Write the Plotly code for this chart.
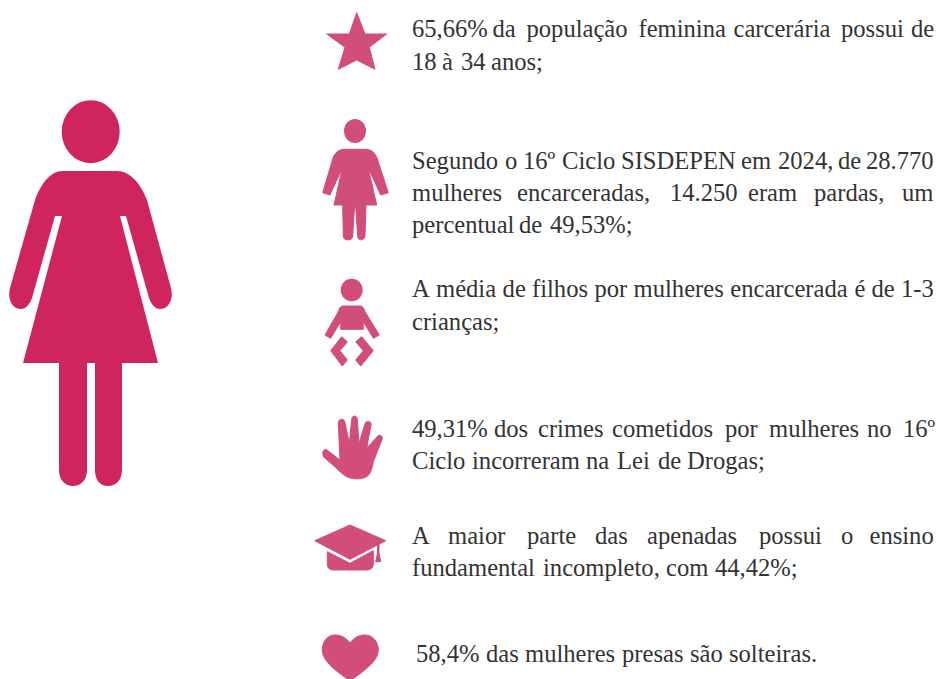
import plotly.graph_objects as go

# Text of the infographic, one entry per printed line, split in words
lines = [
    ["65,66%", "da", "população", "feminina", "carcerária", "possui", "de"],
    ["18", "à", "34", "anos;"],
    ["Segundo", "o", "16º", "Ciclo", "SISDEPEN", "em", "2024,", "de", "28.770"],
    ["mulheres", "encarceradas,", "14.250", "eram", "pardas,", "um"],
    ["percentual", "de", "49,53%;"],
    ["A", "média", "de", "filhos", "por", "mulheres", "encarcerada", "é", "de", "1-3"],
    ["crianças;"],
    ["49,31%", "dos", "crimes", "cometidos", "por", "mulheres", "no", "16º"],
    ["Ciclo", "incorreram", "na", "Lei", "de", "Drogas;"],
    ["A", "maior", "parte", "das", "apenadas", "possui", "o", "ensino"],
    ["fundamental", "incompleto,", "com", "44,42%;"],
    ["58,4%", "das", "mulheres", "presas", "são", "solteiras."],
]

# The original text is justified, so every word gets its own x
line_y = [31, 64, 163, 195, 227, 291, 324, 431, 463, 538, 570, 656]
word_x = [
    [412, 492.5, 526.5, 638.5, 733.5, 841, 911],
    [412, 442, 461, 491],
    [412, 505, 523, 562, 621, 741, 778, 838, 866],
    [412, 517, 670, 748, 814, 902],
    [412, 519, 550],
    [412, 436, 502.6, 532, 594.5, 633.6, 730.3, 854.4, 871.5, 901],
    [412],
    [412, 494, 538, 612, 725, 769, 867, 903],
    [412, 472, 586, 617, 658, 687],
    [412, 448, 527, 595, 647, 759, 841, 869.5],
    [412, 543, 666, 715],
    [416, 486, 525, 622, 690, 729],
]

dark_pink = "#cf245e"
soft_pink = "#d04e78"
text_color = "#333333"

icon_big_body = (
    "M63,171 L117,171 C130,171 141,184 147,200 L171,288 C174,300 168,309 160,309 "
    "C155,309 151,304 149,298 L126,216 L120,216 L158,363 L122,363 L122,470 "
    "C122,480 116,486 108,486 C100,486 95,480 95,470 L95,363 L87,363 L87,470 "
    "C87,480 81,486 73,486 C65,486 59,480 59,470 L59,363 L23,363 L62,216 L55,216 "
    "L32,298 C30,304 26,309 21,309 C13,309 7,300 10,288 L35,200 C41,184 50,171 63,171 Z"
)
icon_star = (
    "M356.7,12.7 L365,34 L386.7,34 L369.3,47.3 L375,69.3 L356.7,60 L338.3,69.3 "
    "L345,47.3 L326.7,34 L349.3,34 Z"
)
icon_woman = (
    "M343.3,149.3 L366.7,149.3 C372,150 375,153 377,158 L388.3,192.7 L380.7,195 "
    "L368.3,168 L376.7,205 L366,205 L365,236 C364,241 358,241 357.7,236.7 L355.7,206.7 "
    "L354.5,206.7 L352.7,236.7 C352,241 344,241 343.3,236.7 L342.7,205 L334,205 "
    "L342.3,168 L330,195 L322.7,192.7 L333,158 C335,153 338,150 343.3,149.3 Z"
)
icon_baby_top = (
    "M343.3,306 L360,306 C363,306 364,309 365,311.7 L379.3,335 L373.3,338.3 "
    "L363.3,321.7 L363.3,329.3 L340.7,329.3 L340.7,321.7 L330.7,338.3 L325,335 "
    "L338.3,311.7 C339,309 340,306 343.3,306 Z"
)
icon_baby_left = "M341.7,336.7 L347.3,341.7 L340,350.7 L347.3,360 L342.3,366 L330.7,350.7 Z"
icon_baby_right = "M361.7,336.7 L355.7,341.7 L363.3,350.7 L355.7,360 L360.7,366 L373.3,350.7 Z"
icon_hand = (
    "M322.7,452.7 C323,450 325,449 327,450 L340,460 L338.3,423.3 C338,418 345,418 345,422.7 "
    "L349.3,443.3 L351.7,419.3 C352,415 357,415 357.3,419.3 L359,443.3 L365,424 "
    "C366,420 372,421 371,425 L366.7,448.3 L376.7,437.3 C378,434 383,435 382.3,438.7 "
    "L373.3,461.7 C372,470 370,475 366,477 C360,480 352,479 346.7,476.7 "
    "C342,474 338,470 336.7,468.3 L323.3,456.7 Z"
)
icon_cap_top = "M350,525 L385.7,540.7 L350,559.3 L314.7,540.7 Z"
icon_cap_base = (
    "M327.3,551.7 L350,563.3 L373.3,550.7 L373.3,565 C373,568 370,570 366.7,570 "
    "L333.3,570 C330,570 327.5,568 327.3,565 Z"
)
icon_tassel = "M377.6,543 L379,543 L379,553 L380.7,561.7 L375.7,561.7 L377.6,553 Z"
icon_heart = (
    "M350,643.3 C346,637 340,635 335,635 C327,635 322.3,642 322.3,650 "
    "C322.3,662 338,672 350,681 C362,672 378.3,662 378.3,650 "
    "C378.3,642 373,635 365,635 C360,635 354,637 350,643.3 Z"
)

soft_paths = [
    icon_star, icon_woman, icon_baby_top, icon_baby_left, icon_baby_right,
    icon_hand, icon_cap_top, icon_cap_base, icon_tassel, icon_heart,
]
# (x center, y center, x radius, y radius, colour)
heads = [
    (90.7, 131.7, 29, 31.5, dark_pink),
    (355, 131, 11, 12, soft_pink),
    (351.7, 290, 11, 11.3, soft_pink),
]

fig = go.Figure()

xs, ys, words = [], [], []
for row, y, row_x in zip(lines, line_y, word_x):
    for word, x in zip(row, row_x):
        xs.append(x)
        ys.append(y)
        words.append(word)

fig.add_trace(
    go.Scatter(
        x=xs,
        y=ys,
        text=words,
        mode="text",
        textposition="middle right",
        textfont=dict(family="Liberation Serif", size=24.6, color=text_color),
        hoverinfo="skip",
        showlegend=False,
    )
)

shapes = [
    dict(type="path", path=icon_big_body, fillcolor=dark_pink, line_width=0, layer="below")
]
for path in soft_paths:
    shapes.append(
        dict(
            type="path",
            path=path,
            fillcolor=soft_pink,
            line=dict(color=soft_pink, width=1),
            layer="below",
        )
    )
for cx, cy, rx, ry, color in heads:
    shapes.append(
        dict(
            type="circle",
            x0=cx - rx,
            x1=cx + rx,
            y0=cy - ry,
            y1=cy + ry,
            fillcolor=color,
            line_width=0,
            layer="below",
        )
    )

fig.update_layout(
    width=937,
    height=679,
    margin=dict(l=0, r=0, t=0, b=0),
    paper_bgcolor="white",
    plot_bgcolor="white",
    shapes=shapes,
    xaxis=dict(range=[0, 937], visible=False, fixedrange=True),
    yaxis=dict(range=[679, 0], visible=False, fixedrange=True),
)

fig.write_html(
    "out.html",
    config=dict(displayModeBar=False),
    post_script="document.body.style.margin='0';",
)
